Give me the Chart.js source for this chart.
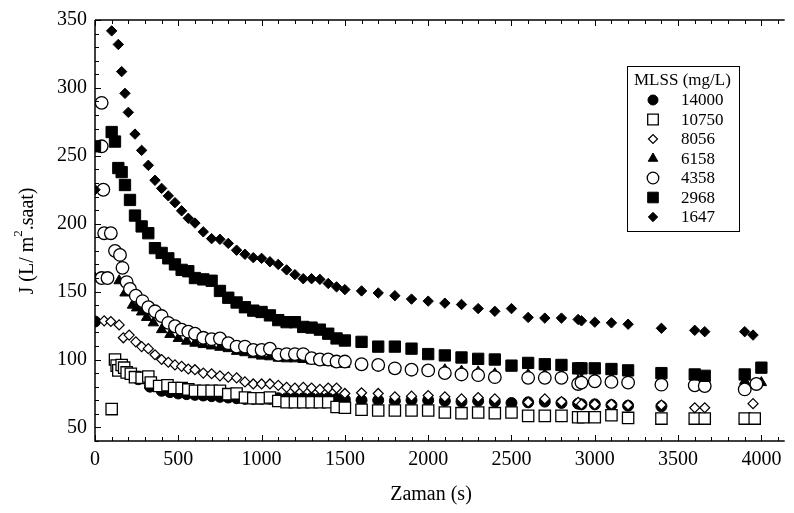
<!DOCTYPE html>
<html>
<head>
<meta charset="utf-8">
<script src="https://cdn.jsdelivr.net/npm/chart.js@4.4.0/dist/chart.umd.min.js"></script>
<style>
  html, body { margin: 0; padding: 0; background: #fff; }
  canvas { display: block; }
</style>
</head>
<body>
<canvas id="fluxChart" width="794" height="513"></canvas>
<script>
// MLSS (mg/L) series, time (s) and flux J (L/m2.saat)
const seriesLabels = ['14000', '10750', '8056', '6158', '4358', '2968', '1647'];

const t14000 = [0, 140, 200, 260, 330, 400, 450, 500, 550, 600, 650, 700, 750, 800, 850, 900, 950, 1000, 1050, 1100, 1150, 1200, 1250, 1300, 1350, 1400, 1450, 1500, 1600, 1700, 1800, 1900, 2000, 2100, 2200, 2300, 2400, 2500, 2600, 2700, 2800, 2900, 2920, 3000, 3100, 3200, 3400];
const j14000 = [128, 97, 90, 85.5, 80, 77, 76, 75, 74.5, 74, 73.5, 73, 72.5, 72, 71.5, 71, 71, 71, 71, 71.5, 71.5, 71.5, 71.5, 71.5, 71.5, 71.5, 71, 70.5, 70, 70, 69.5, 70, 70, 69.5, 69, 69.5, 69, 68, 68.5, 69, 68, 67.5, 67, 67, 66.5, 66, 65.5];

const t10750 = [100, 120, 130, 140, 160, 175, 190, 215, 240, 280, 320, 335, 385, 435, 475, 520, 560, 600, 650, 700, 750, 800, 850, 900, 950, 1000, 1050, 1100, 1150, 1200, 1250, 1300, 1350, 1400, 1450, 1500, 1600, 1700, 1800, 1900, 2000, 2100, 2200, 2300, 2400, 2500, 2600, 2700, 2800, 2900, 2930, 3000, 3100, 3200, 3400, 3600, 3660, 3900, 3960];
const j10750 = [63.5, 100, 95.5, 92, 96, 94, 90.5, 89.5, 87, 86.5, 87.5, 83, 80.5, 81, 79, 79, 78, 77, 77, 77, 77, 74.5, 75, 72, 71.5, 71.5, 72, 69.5, 68.5, 68.5, 68.5, 68.5, 68.5, 68.5, 65, 64.5, 63, 62.5, 62.5, 62.5, 62.5, 61, 60.5, 61, 60.5, 61, 58.5, 58.5, 58.5, 57.5, 57.5, 57.5, 59, 57, 56.5, 56.5, 56.5, 56.5, 56.5];

const t8056 = [55, 95, 145, 170, 205, 245, 280, 320, 360, 400, 440, 480, 520, 560, 600, 650, 700, 750, 800, 850, 900, 950, 1000, 1050, 1100, 1150, 1200, 1250, 1300, 1350, 1400, 1450, 1500, 1600, 1700, 1800, 1900, 2000, 2100, 2200, 2300, 2400, 2600, 2700, 2800, 2900, 2920, 3000, 3100, 3200, 3400, 3600, 3660, 3950];
const j8056 = [128.5, 128, 125.5, 116, 118, 113, 109.5, 108, 103.5, 100, 98, 96, 95, 93, 92.5, 90, 89.5, 88, 87, 86.5, 83.5, 82, 82, 82, 81, 79.5, 79, 79.5, 79, 78, 79, 79, 75, 75.5, 75, 72.5, 73, 73.5, 72.5, 71, 72, 71, 68.5, 71, 69, 68.5, 67, 67, 67, 66.5, 66.5, 64.5, 64.5, 67.5];

const t6158 = [0, 145, 180, 225, 250, 280, 310, 350, 400, 450, 500, 550, 600, 650, 700, 750, 800, 850, 900, 950, 1000, 1050, 1100, 1150, 1200, 1250, 1300, 1350, 1400, 1450, 1500, 1600, 1700, 1800, 1900, 2000, 2100, 2200, 2300, 2400, 2600, 2700, 2800, 2900, 2920, 3000, 3100, 3200, 3400, 3600, 3660, 3900, 4000];
const j6158 = [160, 158, 149, 140, 138, 135, 131, 127, 122, 118.5, 115.5, 113.5, 112, 111, 110, 109, 108, 106, 105, 103.5, 102.5, 102, 101, 100.5, 100.5, 100, 99, 98.5, 98, 97, 96.5, 95.5, 95, 92.5, 91.5, 91, 92.5, 91.5, 91, 89.5, 89, 89, 89, 84.5, 85.5, 86.5, 86, 85.5, 84, 83.5, 83, 84, 83];

const t4358 = [40, 40, 50, 55, 95, 40, 75, 120, 150, 165, 190, 210, 245, 285, 320, 360, 400, 440, 480, 520, 560, 600, 650, 700, 750, 800, 850, 900, 950, 1000, 1050, 1100, 1150, 1200, 1250, 1300, 1350, 1400, 1450, 1500, 1600, 1700, 1800, 1900, 2000, 2100, 2200, 2300, 2400, 2600, 2700, 2800, 2900, 2920, 3000, 3100, 3200, 3400, 3600, 3660, 3900, 3970];
const j4358 = [289, 257, 225, 193, 193, 160, 160, 180, 177, 167.5, 157, 152, 147, 143, 138.5, 135.5, 132, 127, 124.5, 122, 120.5, 119, 116, 115, 115.5, 112, 109.5, 109.5, 107, 107, 108, 103.5, 104, 104, 104, 101, 100, 100, 98.5, 98.5, 96.5, 96, 93.5, 92.5, 92, 90, 89, 88.5, 87, 86.5, 86.5, 86.5, 82, 83, 84, 83.5, 83, 81.5, 81, 80.5, 78, 82];

const t2968 = [0, 100, 120, 140, 160, 180, 210, 240, 280, 320, 360, 400, 440, 480, 520, 560, 600, 650, 700, 750, 800, 850, 900, 950, 1000, 1050, 1100, 1150, 1200, 1250, 1300, 1350, 1400, 1450, 1500, 1600, 1700, 1800, 1900, 2000, 2100, 2200, 2300, 2400, 2500, 2600, 2700, 2800, 2900, 2920, 3000, 3100, 3200, 3400, 3600, 3660, 3900, 4000];
const j2968 = [257, 267.5, 260.5, 241, 238, 228.5, 217.5, 206, 198, 193, 182, 178.5, 174.5, 170, 166, 165, 160, 159, 158, 150.5, 145.5, 142, 138.5, 136, 135, 132.5, 129, 127.5, 127.5, 124, 123.5, 122, 119, 115.5, 114, 113, 109.5, 109.5, 108, 104, 103, 101.5, 100.5, 100, 95.5, 97.5, 96.5, 96, 93.5, 93.5, 93.5, 93, 92, 90, 89, 88, 89, 94];

const t1647 = [0, 100, 140, 160, 180, 200, 240, 280, 320, 360, 400, 440, 480, 520, 560, 600, 650, 700, 750, 800, 850, 900, 950, 1000, 1050, 1100, 1150, 1200, 1250, 1300, 1350, 1400, 1450, 1500, 1600, 1700, 1800, 1900, 2000, 2100, 2200, 2300, 2400, 2500, 2600, 2700, 2800, 2900, 2920, 3000, 3100, 3200, 3400, 3600, 3660, 3900, 3950];
const j1647 = [225, 342, 332, 312, 296, 282, 266, 254, 243, 232, 226, 220.5, 215.5, 209.5, 204, 200.5, 194, 189, 188.5, 185.5, 180.5, 177.5, 175, 174.5, 172, 170, 166, 162.5, 159.5, 159.5, 159, 156, 153.5, 151.5, 150.5, 149, 147, 144.5, 143, 141.5, 140.5, 137.5, 135.5, 137.5, 131, 130.5, 130.5, 129.5, 128.5, 127.5, 127, 126, 123, 121.5, 120.5, 120.5, 118];

const xTicks = [0, 500, 1000, 1500, 2000, 2500, 3000, 3500, 4000];
const yTicks = [50, 100, 150, 200, 250, 300, 350];

const serif = "'Liberation Serif', 'Times New Roman', serif";

function pts(t, j) {
    return t.map((v, i) => ({ x: v, y: j[i] }));
}

function series(label, t, j, style, radius, fill, bw, order) {
    return {
        label: label,
        data: pts(t, j),
        pointStyle: style,
        pointRadius: radius,
        pointHoverRadius: radius,
        backgroundColor: fill,
        borderColor: '#000',
        borderWidth: bw,
        showLine: false,
        clip: 0,
        order: order
    };
}

const datasets = [
    series(seriesLabels[0], t14000, j14000, 'circle', 5.5, '#000', 1, 6),
    series(seriesLabels[1], t10750, j10750, 'rect', 8, '#fff', 1.3, 4),
    series(seriesLabels[2], t8056, j8056, 'rectRot', 5, '#fff', 1.2, 3),
    series(seriesLabels[3], t6158, j6158, 'triangle', 6, '#000', 1, 5),
    series(seriesLabels[4], t4358, j4358, 'circle', 6.3, '#fff', 1.3, 2),
    series(seriesLabels[5], t2968, j2968, 'rect', 8, '#000', 1, 1),
    series(seriesLabels[6], t1647, j1647, 'rectRot', 5.2, '#000', 1, 0)
];

// axes box, inward ticks, axis titles and the MLSS legend
const framePlugin = {
    id: 'frame',
    afterDatasetsDraw(chart) {
        const ctx = chart.ctx;
        const a = chart.chartArea;
        const x = chart.scales.x;
        const y = chart.scales.y;
        ctx.save();
        ctx.strokeStyle = '#000';
        ctx.lineWidth = 1.5;
        ctx.beginPath();
        ctx.moveTo(a.left, a.top);
        ctx.lineTo(a.left, a.bottom);
        ctx.lineTo(a.right, a.bottom);
        ctx.moveTo(a.left, a.top);
        ctx.lineTo(a.right, a.top);
        ctx.stroke();

        ctx.lineWidth = 1;
        ctx.beginPath();
        for (let v = Math.ceil(y.min / 10) * 10; v <= y.max; v += 10) {
            const py = Math.round(y.getPixelForValue(v)) + 0.5;
            const len = v % 50 === 0 ? 6 : 4;
            ctx.moveTo(a.left, py);
            ctx.lineTo(a.left + len, py);
        }
        for (let v = 0; v <= x.max; v += 100) {
            const px = Math.round(x.getPixelForValue(v)) + 0.5;
            const len = v % 500 === 0 ? 6 : 4;
            ctx.moveTo(px, a.bottom);
            ctx.lineTo(px, a.bottom - len);
            ctx.moveTo(px, a.top);
            ctx.lineTo(px, a.top + len);
        }
        ctx.stroke();

        // y title with superscript
        ctx.fillStyle = '#000';
        ctx.textBaseline = 'middle';
        ctx.textAlign = 'left';
        ctx.save();
        ctx.translate(28, 241);
        ctx.rotate(-Math.PI / 2);
        const big = '20px ' + serif;
        const small = '13px ' + serif;
        const p1 = 'J (L/ m', p2 = '2', p3 = '.saat)';
        ctx.font = big;
        const w1 = ctx.measureText(p1).width;
        const w3 = ctx.measureText(p3).width;
        ctx.font = small;
        const w2 = ctx.measureText(p2).width;
        const sx = -(w1 + w2 + w3) / 2;
        ctx.font = big;
        ctx.fillText(p1, sx, 0);
        ctx.font = small;
        ctx.fillText(p2, sx + w1, -9);
        ctx.font = big;
        ctx.fillText(p3, sx + w1 + w2, 0);
        ctx.restore();

        // x title
        ctx.font = '20px ' + serif;
        ctx.textAlign = 'center';
        ctx.fillText('Zaman (s)', 431, 495);

        // legend
        ctx.lineWidth = 1;
        ctx.strokeRect(627.5, 66.5, 112, 165);
        ctx.font = '17px ' + serif;
        ctx.textAlign = 'left';
        ctx.fillText('MLSS (mg/L)', 634, 81);
        chart.data.datasets.forEach((ds, i) => {
            const cy = 100 + i * 19.5;
            ctx.fillStyle = ds.backgroundColor;
            ctx.strokeStyle = '#000';
            ctx.lineWidth = ds.borderWidth;
            Chart.helpers.drawPoint(ctx, { pointStyle: ds.pointStyle, radius: ds.pointRadius - 0.5, borderWidth: ds.borderWidth, rotation: 0 }, 653, cy);
            ctx.fillStyle = '#000';
            ctx.fillText(ds.label, 681, cy + 1);
        });
        ctx.restore();
    }
};

const ctx = document.getElementById('fluxChart').getContext('2d');
new Chart(ctx, {
    type: 'scatter',
    data: { datasets: datasets },
    options: {
        responsive: false,
        animation: false,
        layout: { padding: { left: 0, top: 13, right: 0, bottom: 0 } },
        plugins: {
            legend: { display: false },
            tooltip: { enabled: false }
        },
        scales: {
            x: {
                type: 'linear',
                min: 0,
                max: 4140,
                grid: { display: false, drawTicks: false },
                border: { display: false },
                ticks: {
                    color: '#000',
                    font: { family: serif, size: 20 },
                    padding: 7,
                    maxRotation: 0,
                    autoSkip: false,
                    callback: v => String(v)
                },
                afterBuildTicks: function (scale) {
                    scale.ticks = xTicks.map(v => ({ value: v }));
                },
                afterFit: function (scale) {
                    scale.height = 72;
                }
            },
            y: {
                type: 'linear',
                min: 40,
                max: 350,
                grid: { display: false, drawTicks: false },
                border: { display: false },
                ticks: {
                    color: '#000',
                    font: { family: serif, size: 20 },
                    padding: 8,
                    autoSkip: false,
                    callback: v => String(v)
                },
                afterBuildTicks: function (scale) {
                    scale.ticks = yTicks.map(v => ({ value: v }));
                },
                afterFit: function (scale) {
                    scale.width = 95;
                }
            }
        }
    },
    plugins: [framePlugin]
});
</script>
</body>
</html>
